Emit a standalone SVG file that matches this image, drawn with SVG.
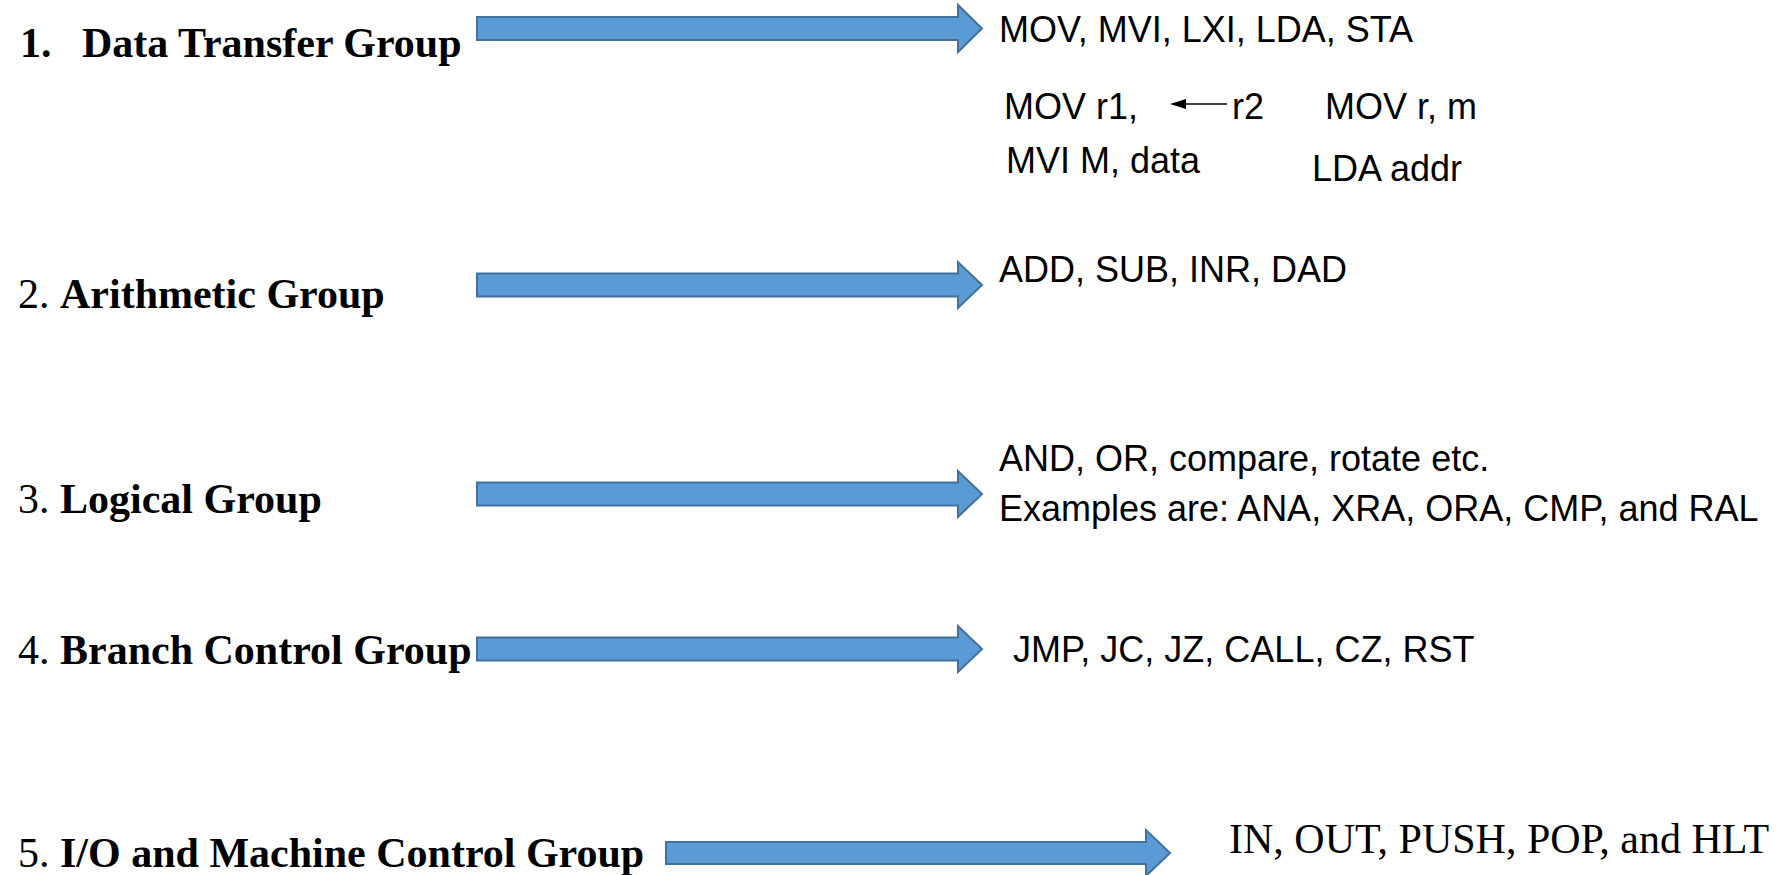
<svg xmlns="http://www.w3.org/2000/svg" width="1789" height="875" viewBox="0 0 1789 875">
<defs>
<style>
.lbl{font-family:"Liberation Serif","Times New Roman",serif;font-weight:bold;font-size:42px;fill:#000}
.num{font-family:"Liberation Serif","Times New Roman",serif;font-weight:normal;font-size:42px;fill:#000}
.ex{font-family:"Liberation Sans",Arial,sans-serif;font-size:36px;fill:#000}
.exs{font-family:"Liberation Serif","Times New Roman",serif;font-size:42px;fill:#000}
.arr{fill:#5b9bd5;stroke:#41719c;stroke-width:2}
</style>
</defs>
<rect width="1789" height="875" fill="#fff"/>
<g id="node-data-transfer">
<text class="lbl" x="20" y="57">1.<tspan x="82">Data Transfer Group</tspan></text>
</g>
<g id="node-arithmetic">
<text class="lbl" x="18" y="308"><tspan class="num">2. </tspan>Arithmetic Group</text>
</g>
<g id="node-logical">
<text class="lbl" x="18" y="513"><tspan class="num">3. </tspan>Logical Group</text>
</g>
<g id="node-branch">
<text class="lbl" x="18" y="664"><tspan class="num">4. </tspan>Branch Control Group</text>
</g>
<g id="node-io">
<text class="lbl" x="18" y="867"><tspan class="num">5. </tspan>I/O and Machine Control Group</text>
</g>
<g id="connectors">
<path class="arr" d="M477,17 H958 V5 L982,28.5 L958,52 V40 H477 Z"/>
<path class="arr" d="M477,273.5 H958 V262 L982,285 L958,308 V296.5 H477 Z"/>
<path class="arr" d="M477,482.5 H958 V471 L982,494 L958,517 V505.5 H477 Z"/>
<path class="arr" d="M477,637.5 H958 V626 L982,649 L958,672 V660.5 H477 Z"/>
<path class="arr" d="M666,842 H1146 V830 L1170,853 L1146,876 V864 H666 Z"/>
</g>
<g id="node-data-transfer-examples">
<text class="ex" x="999" y="42">MOV, MVI, LXI, LDA, STA</text>
<text class="ex" x="1004" y="119">MOV r1,</text>
<line x1="1227" y1="104" x2="1182" y2="104" stroke="#000" stroke-width="1.5"/>
<polygon points="1170,104 1186,99 1186,109" fill="#000"/>
<text class="ex" x="1232" y="119">r2</text>
<text class="ex" x="1325" y="119">MOV r, m</text>
<text class="ex" x="1006" y="173">MVI M, data</text>
<text class="ex" x="1312" y="181">LDA addr</text>
</g>
<g id="node-arithmetic-examples">
<text class="ex" x="999" y="282">ADD, SUB, INR, DAD</text>
</g>
<g id="node-logical-examples">
<text class="ex" x="999" y="471">AND, OR, compare, rotate etc.</text>
<text class="ex" x="999" y="521">Examples are: ANA, XRA, ORA, CMP, and RAL</text>
</g>
<g id="node-branch-examples">
<text class="ex" x="1013" y="662">JMP, JC, JZ, CALL, CZ, RST</text>
</g>
<g id="node-io-examples">
<text class="exs" x="1229" y="853">IN, OUT, PUSH, POP, and HLT</text>
</g>
</svg>
